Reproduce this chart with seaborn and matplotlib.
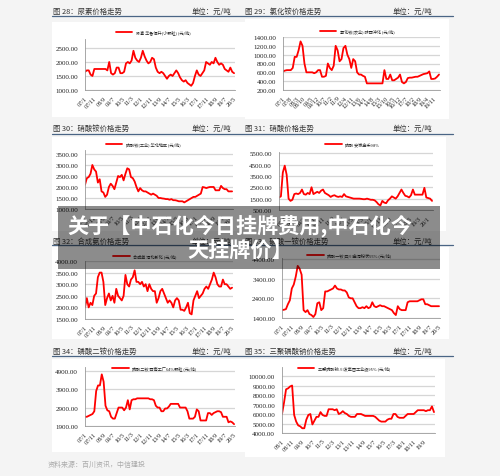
import numpy as np
import matplotlib
matplotlib.use("Agg")
import matplotlib.pyplot as plt
from matplotlib.patches import Rectangle
import seaborn as sns

# ---- data (bi-monthly readings, first point = first month of each chart) ----
urea_price = [1650, 1700, 1700, 1550, 1500, 1750, 1750, 1750, 1750, 1750, 1750, 1750,
              1700, 2000, 1600, 1550, 1600, 1800, 1800, 1600, 1600, 1650,
              1950, 2000, 1950, 2050, 2400, 2150, 2050, 2000, 2150, 2400,
              2200, 2050, 1950, 2000, 2150, 2100, 1800, 1650, 1600, 1650,
              1600, 1500, 1400, 1500, 1550, 1500, 1600, 1700, 1600, 1450,
              1350, 1300, 1350, 1250, 1200, 1150, 1250, 1500, 1700, 1550,
              1500, 1600, 1700, 2000, 1950, 1900, 2000, 1950, 2150, 2000,
              1900, 1950, 1900, 1750, 1700, 1650, 1800, 1650, 1600]
nh4cl_price = [620, 640, 650, 650, 650, 700, 950, 950, 1100, 1300, 1200, 800,
               600, 600, 600, 600, 580, 600, 650, 650, 500, 500,
               520, 800, 700, 650, 750, 1200, 1100, 850, 900, 1150,
               1200, 1000, 900, 700, 900, 850, 600, 550, 550, 520,
               500, 350, 350, 350, 350, 350, 350, 350, 350, 350,
               650, 450, 450, 550, 420, 420, 450, 480, 550, 380,
               350, 380, 470, 480, 480, 490, 500, 500, 520, 540,
               560, 570, 580, 620, 450, 450, 460, 500, 550]
an_price = [2100, 2400, 2450, 2600, 3000, 2800, 2700, 2200, 2350, 1800, 1750, 1550,
            1650, 2000, 2150, 2050, 1900, 2200, 2500, 2450, 2550, 2300,
            2600, 2850, 2800, 2450, 2400, 2250, 2000, 1800, 1950, 1850,
            1800, 1800, 1750, 1700, 1650, 1700, 1650, 1600, 1500, 1500,
            1480, 1470, 1450, 1450, 1420, 1450, 1400, 1400, 1380, 1350,
            1350, 1350, 1300, 1350, 1400, 1450, 1500, 1550, 1550, 1600,
            1650, 1700, 2000, 1980, 1950, 1980, 2000, 2000, 2000, 1850,
            1850, 1850, 2050, 1950, 1900, 1900, 1800, 1800, 1800]
nitric_price = [1600, 1700, 3800, 4400, 3600, 1500, 1300, 1400, 1900, 1950, 1900, 2000,
                2300, 1900, 1850, 2000, 1900, 2500, 1900, 2000, 2100, 2000,
                2200, 2300, 2000, 1900, 1800, 1650, 1750, 1800, 1700, 1650,
                1700, 1650, 1900, 1700, 1650, 1600, 1550, 1500, 1500, 1500,
                1500, 1480, 1450, 1450, 1500, 1450, 1400, 1400, 1350, 1200,
                1000, 900, 1300, 1150, 1100, 1350, 1500, 1700, 1600, 1500,
                1700, 2000, 2300, 2000, 1750, 1700, 1600, 1800, 2300, 1850,
                1850, 1850, 1850, 1850, 2450, 1600, 1550, 1500, 1300]
nh3_price = [2000, 2400, 2000, 2200, 2100, 2500, 2600, 3300, 3500, 3500, 3100, 2100,
             2400, 2600, 2300, 2500, 2200, 2800, 2500, 2400, 2300, 2500,
             3400, 3000, 2900, 3200, 3300, 3600, 3100, 3100, 3000, 3100,
             2900, 3000, 2700, 3000, 2800, 2700, 2700, 2200, 2400, 2700,
             2800, 2600, 2400, 2200, 2300, 2200, 2000, 2300, 2400, 2300,
             1900, 1900, 1850, 2000, 2200, 1750, 1700, 2300, 2500, 2700,
             2400, 2500, 2600, 2800, 2900, 2800, 3000, 3200, 3500, 3300,
             3000, 2900, 2900, 3200, 3000, 3000, 2900, 2800, 2850]
map_price = [1800, 1820, 1850, 2100, 2300, 2900, 3100, 3500, 4050, 3900, 3600, 1800,
             1700, 1800, 1600, 1550, 1450, 1600, 2150, 2200, 1800, 1900,
             2750, 2750, 2800, 2850, 2900, 3050, 2900, 2850, 2850, 2800,
             2800, 2700, 2450, 2400, 2400, 2200, 2000, 1900, 1900, 1950,
             1900, 2000, 1900, 1950, 2200, 2000, 1950, 2000, 2050, 2000,
             2000, 1950, 1900, 1850, 1800, 1650, 1550, 2000, 1850, 1800,
             1800, 1800, 2200, 2250, 2250, 2250, 2250, 2250, 2300, 2350,
             2350, 2100, 2100, 2050, 2000, 2000, 2000, 2000, 2000]
dap_price = [2400, 2400, 2450, 2500, 2550, 2700, 3800, 4100, 4100, 4700, 4300, 3000,
             2750, 2700, 2400, 2300, 2300, 2600, 2900, 2900, 2900, 2750,
             2900, 3300, 2800, 3300, 3350, 3350, 3400, 3400, 3400, 3400,
             3400, 3400, 3400, 3350, 3350, 3300, 3000, 2900, 2900, 2700,
             2700, 2850, 2850, 2950, 3100, 3100, 3100, 3100, 3100, 2900,
             2900, 2900, 2900, 2700, 2300, 2300, 2300, 2400, 2800, 2700,
             2200, 2200, 2200, 2200, 2600, 2600, 2500, 2600, 2650, 2700,
             2700, 2650, 2400, 2400, 2400, 2100, 2150, 2100, 2000]
stpp_price = [6000, 7200, 8600, 8700, 8900, 9000, 5900, 5200, 4800, 4700, 4500, 4500,
              5400, 5900, 6000, 4900, 5300, 5700, 5700, 6200, 5900, 5800,
              5800, 6500, 6500, 6500, 6400, 6500, 6000, 6100, 6300, 6100,
              6000, 5800, 5700, 5700, 5700, 6000, 6000, 6000, 5900, 5800,
              5800, 5800, 5800, 5800, 5700, 5500, 5300, 5200, 5200, 5200,
              5400, 5500, 5500, 6000, 6000, 5700, 5600, 5600, 5600, 5800,
              6000, 6000, 6000, 6000, 6200, 6400, 6400, 6400, 6400, 6300,
              6400, 6400, 6800, 6200]

ticks_07_10m = ["07/1", "07/11", "08/9", "09/7", "10/5", "11/3", "12/1", "12/11", "13/9",
                "14/7", "15/5", "16/3", "17/1", "17/11", "18/9", "19/7", "20/5"]
ticks_07_7m = ["07/1", "07/8", "08/3", "08/10", "09/5", "09/12", "10/7", "11/2", "11/9",
               "12/4", "12/11", "13/6", "14/1", "14/8", "15/3", "15/10", "16/5", "16/12",
               "17/7", "18/2", "18/9", "19/4", "19/11"]
ticks_nitric = ["07/7", "08/5", "09/3", "10/1", "10/11", "11/9", "12/7", "13/5", "14/3",
                "15/1", "15/11", "16/9", "17/7", "18/5", "19/3", "20/1"]
ticks_stpp = ["08/1", "08/11", "09/9", "10/7", "11/5", "12/3", "13/1", "13/11", "14/9",
              "15/7", "16/5", "17/3", "18/1", "18/11", "19/9"]

titles = ["图 28：尿素价格走势", "图 29：氯化铵价格走势", "图 30：硝酸铵价格走势", "图 31：硝酸价格走势",
          "图 32：合成氨价格走势", "图 33：磷酸一铵价格走势", "图 34：磷酸二铵价格走势", "图 35：三聚磷酸钠价格走势"]
legends = ["尿素 华鲁恒升(小颗粒) (元/吨)", "氯化铵(农业) 陕西冲化 (元/吨)", "硝酸铵(工业) 华北地区 (元/吨)",
           "硝酸 安徽金禾98%", "合成氨 河北新化 (元/吨)", "磷酸一铵 四川金河粉状55% (元/吨)",
           "磷酸二铵 西南工厂64%颗粒 (元/吨)", "三聚磷酸钠 川发集团工业级95% (元/吨)"]
unit_text = "单位：元/吨"
source_text = "资料来源：百川资讯，中信建投"
banner_text = "关于【中石化今日挂牌费用,中石化今\n天挂牌价】"

sns.set_style("white")
plt.rcParams["font.family"] = ["Noto Sans CJK SC", "DejaVu Sans"]

W, H = 500, 477
fig = plt.figure(figsize=(5.0, 4.77), dpi=100, facecolor="#f4f4f4")


def fx(x):
    return x / W


def fy(y):
    return 1 - y / H


def month_idx(lbl, base):
    yy, mm = lbl.split("/")
    return (int(yy) - base) * 12 + int(mm) - 1


# pixel boxes: (x0, x1, ytop, ybot), ylim, yticks, ticks, base year, x extent, legend (x, y)
specs = [
    (urea_price, (85, 235, 40, 91), (1000, 2820), [1000, 1500, 2000, 2500], ticks_07_10m, 7, 161, (153, 33)),
    (nh4cl_price, (283, 440, 38, 91), (200, 1400), [200, 400, 600, 800, 1000, 1200, 1400], ticks_07_7m, 7, 161, (357, 32)),
    (an_price, (85, 233, 151, 210), (1000, 3680), [1000, 1500, 2000, 2500, 3000, 3500], ticks_07_10m, 7, 161, (143, 145)),
    (nitric_price, (279, 433, 153, 211), (500, 5600), [500, 1500, 2500, 3500, 4500, 5500], ticks_nitric, 7, 161, (352, 145)),
    (nh3_price, (85, 233, 262, 320), (1500, 4000), [1500, 2000, 2500, 3000, 3500, 4000], ticks_07_10m, 7, 161, (145, 257)),
    (map_price, (282, 440, 259, 319), (1400, 4450), [1400, 2400, 3400, 4400], ticks_07_10m, 7, 161, (349, 256)),
    (dap_price, (85, 235, 368, 427), (1900, 5100), [1900, 2900, 3900, 4900], ticks_07_10m, 7, 161, (154, 369)),
    (stpp_price, (282, 435, 368, 434), (4000, 10950), [4000, 5000, 6000, 7000, 8000, 9000, 10000], ticks_stpp, 8, 151, (344, 369)),
]

# white chart panels
panels = [(52, 245, 23, 118), (245, 449, 20, 120), (52, 245, 138, 232), (245, 446, 138, 232),
          (52, 245, 248, 340), (245, 449, 248, 340), (52, 245, 360, 453), (245, 445, 360, 458)]
for x0, x1, y0, y1 in panels:
    fig.patches.append(Rectangle((fx(x0), fy(y1)), fx(x1) - fx(x0), fy(y0) - fy(y1),
                                 transform=fig.transFigure, facecolor="white",
                                 edgecolor="none", zorder=-1))

# title rows
for row, (ty, ly) in enumerate([(12, 17), (129, 135), (242, 246), (352, 357)]):
    fig.text(fx(53), fy(ty), titles[2 * row], fontsize=5.3, color="#333333", va="center")
    fig.text(fx(231), fy(ty), unit_text, fontsize=5.3, color="#333333", va="center", ha="right")
    fig.text(fx(245), fy(ty), titles[2 * row + 1], fontsize=5.3, color="#333333", va="center")
    fig.text(fx(432), fy(ty), unit_text, fontsize=5.3, color="#333333", va="center", ha="right")
    fig.add_artist(plt.Line2D([fx(52), fx(453)], [fy(ly), fy(ly)], color="#4a6585",
                              linewidth=0.9, transform=fig.transFigure))

for i, (vals, box, ylim, yticks, tlabels, base, xmax, leg) in enumerate(specs):
    x0, x1, y0, y1 = box
    ax = fig.add_axes([fx(x0), fy(y1), fx(x1) - fx(x0), fy(y0) - fy(y1)])
    months = np.arange(0, 2 * len(vals), 2)
    sns.lineplot(x=months, y=vals, ax=ax, color="#ff0000", linewidth=1.3, label=legends[i])
    ax.set_xlim(0, xmax)
    ax.set_ylim(*ylim)
    ax.set_yticks(yticks)
    ax.set_yticklabels([f"{v:.2f}" for v in yticks], fontsize=5, family="Liberation Serif", color="#222222")
    ax.set_xticks([month_idx(t, base) for t in tlabels])
    ax.set_xticklabels(tlabels, rotation=45, ha="right", rotation_mode="anchor",
                       fontsize=4.5, family="Liberation Serif", color="#222222")
    ax.tick_params(axis="y", length=0, pad=5)
    ax.tick_params(axis="x", length=2, width=0.5, color="#999999", pad=1.5, direction="out")
    ax.yaxis.grid(True, color="#d6d6d6", linewidth=0.9)
    ax.xaxis.grid(False)
    ax.set_facecolor("white")
    for s in ["top", "right"]:
        ax.spines[s].set_visible(False)
    for s in ["left", "bottom"]:
        ax.spines[s].set_color("#999999")
        ax.spines[s].set_linewidth(0.6)
    ax.set_xlabel("")
    ax.set_ylabel("")
    lx, ly = leg
    ax.legend(loc="center", bbox_to_anchor=(fx(lx), fy(ly)), bbox_transform=fig.transFigure,
              frameon=False, fontsize=3, handlelength=4, handletextpad=0.8, borderpad=0)

fig.text(fx(48), fy(465), source_text, fontsize=5, color="#aaaaaa", style="italic", va="center")

# banner overlay
fig.patches.append(Rectangle((fx(58), fy(270)), fx(440) - fx(58), fy(207) - fy(270),
                             transform=fig.transFigure, facecolor="black", alpha=0.45,
                             edgecolor="none", zorder=10))
fig.text(fx(240), fy(238), banner_text, fontsize=15.2, fontweight="bold", color="white",
         ha="center", va="center", linespacing=1.2, zorder=11)

fig.savefig("out.png", dpi=100, facecolor=fig.get_facecolor())
